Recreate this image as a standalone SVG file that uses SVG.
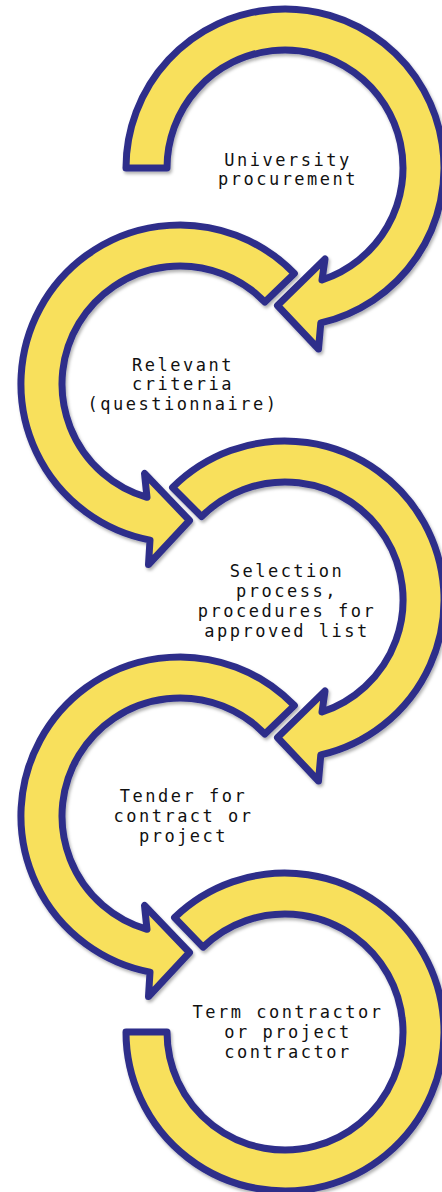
<svg xmlns="http://www.w3.org/2000/svg" width="442" height="1192" viewBox="0 0 442 1192">
<defs>
<filter id="sh" x="-10%" y="-10%" width="120%" height="120%">
<feDropShadow dx="1.5" dy="2.5" stdDeviation="1.5" flood-color="#000" flood-opacity="0.3"/>
</filter>
<style>
.arr{fill:#F8E05B;stroke:#2E2F8A;stroke-width:7;stroke-linejoin:round;filter:url(#sh)}
.lbl{font-family:"DejaVu Sans Mono","Liberation Mono",monospace;font-size:17px;letter-spacing:2.5px;fill:#111;text-anchor:middle}
</style>
</defs>
<rect width="442" height="1192" fill="#fff"/>
<g id="connectors"/>
<g id="node1">
<path class="arr" d="M126 168 A159 159 0 1 1 320.8 322.9 L318.5 349 L277.5 305.5 L325 259 L322 280 A118 118 0 1 0 167 168 Z"/>
<text class="lbl" x="288" y="166">University</text>
<text class="lbl" x="288" y="185">procurement</text>
</g>
<g id="node2">
<path class="arr" d="M294.37 273.55 A159 159 0 1 0 150 540.1 L148.5 564.5 L189.5 520.5 L144.5 473.5 L147 497.3 A118 118 0 1 1 264.88 302.03 Z"/>
<text class="lbl" x="183" y="371">Relevant</text>
<text class="lbl" x="183" y="390">criteria</text>
<text class="lbl" x="183" y="410">(questionnaire)</text>
</g>
<g id="node3">
<path class="arr" d="M172.57 487.57 A159 159 0 1 1 320.8 754.9 L318.5 781 L277.5 737.5 L325 691 L322 712 A118 118 0 1 0 201.56 516.56 Z"/>
<text class="lbl" x="287" y="577">Selection</text>
<text class="lbl" x="287" y="597">process,</text>
<text class="lbl" x="287" y="617">procedures for</text>
<text class="lbl" x="287" y="637">approved list</text>
</g>
<g id="node4">
<path class="arr" d="M294.37 705.55 A159 159 0 1 0 150 972.1 L148.5 996.5 L189.5 952.5 L144.5 905.5 L147 929.3 A118 118 0 1 1 264.88 734.03 Z"/>
<text class="lbl" x="183.5" y="802">Tender for</text>
<text class="lbl" x="183.5" y="822">contract or</text>
<text class="lbl" x="183.5" y="842">project</text>
</g>
<g id="node5">
<path class="arr" d="M174.55 917.63 A159 159 0 1 1 126 1032 L167 1032 A118 118 0 1 0 203.03 947.12 Z"/>
<text class="lbl" x="288" y="1018">Term contractor</text>
<text class="lbl" x="288" y="1038">or project</text>
<text class="lbl" x="288" y="1058">contractor</text>
</g>
</svg>
